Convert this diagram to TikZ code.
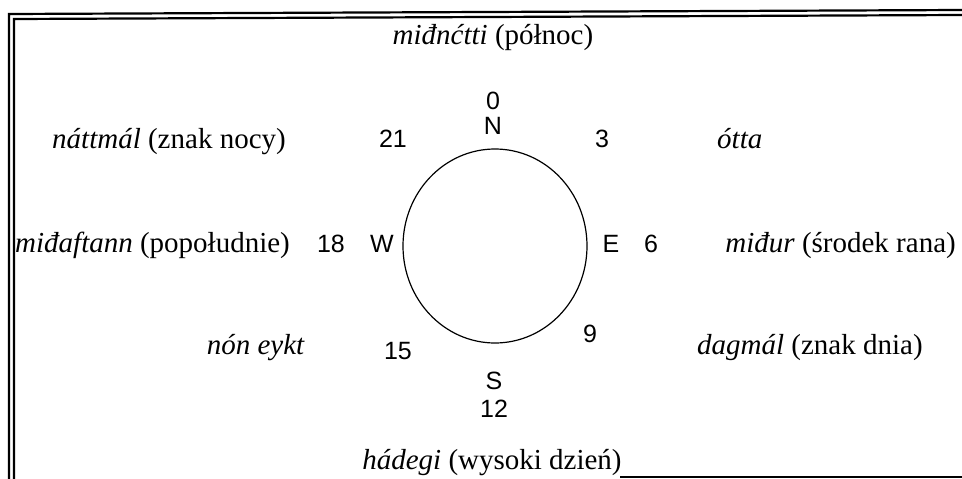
\documentclass[tikz,border=0pt]{standalone}
\usepackage{fontspec}
\usetikzlibrary{shapes.geometric}
\setmainfont{Liberation Serif}
\setsansfont{Liberation Sans}
\begin{document}
\begin{tikzpicture}[x=1pt,y=-1pt,
  lbl/.style={font=\fontsize{29}{33}\selectfont, inner sep=0pt},
  num/.style={font=\sffamily\fontsize{25}{28}\selectfont, inner sep=0pt, anchor=base},
  frameline/.style={line width=2.2pt}]
\useasboundingbox (0,0) rectangle (962,479);
% frame
\draw[frameline] (9,479) -- (9,14) -- (962,10);
\draw[frameline] (14,479) -- (14,19) -- (962,15);
\draw[frameline] (620,477) -- (962,477);
% dial
\node[draw, ellipse, line width=1.2pt, minimum width=184pt, minimum height=194pt, inner sep=0pt] (dial) at (495,246) {};
% hours and directions
\node[num] (h0) at (493,109) {0};
\node[num] (n) at (493,134.5) {N};
\node[num] (h21) at (393,147.5) {21};
\node[num] (h3) at (602,147.5) {3};
\node[num] (h18) at (331,252) {18};
\node[num] (w) at (382,252) {W};
\node[num] (e) at (611,252) {E};
\node[num] (h6) at (651,252) {6};
\node[num] (h15) at (398,359) {15};
\node[num] (h9) at (590,342) {9};
\node[num] (s) at (494,389) {S};
\node[num] (h12) at (494,417) {12};
% names
\node[lbl, anchor=base] (north) at (493,44) {\textit{miđnćtti} (północ)};
\node[lbl, anchor=base] (nw) at (169,148) {\textit{náttmál} (znak nocy)};
\node[lbl, anchor=base west] (ne) at (717,148) {\textit{ótta}};
\node[lbl, anchor=base west] (west) at (15,252) {\textit{miđaftann} (popołudnie)};
\node[lbl, anchor=base east] (east) at (956,252) {\textit{miđur} (środek rana)};
\node[lbl, anchor=base east] (sw) at (305,354) {\textit{nón eykt}};
\node[lbl, anchor=base west] (se) at (697,354) {\textit{dagmál} (znak dnia)};
\node[lbl, anchor=base] (south) at (492,469) {\textit{hádegi} (wysoki dzień)};
\end{tikzpicture}
\end{document}
